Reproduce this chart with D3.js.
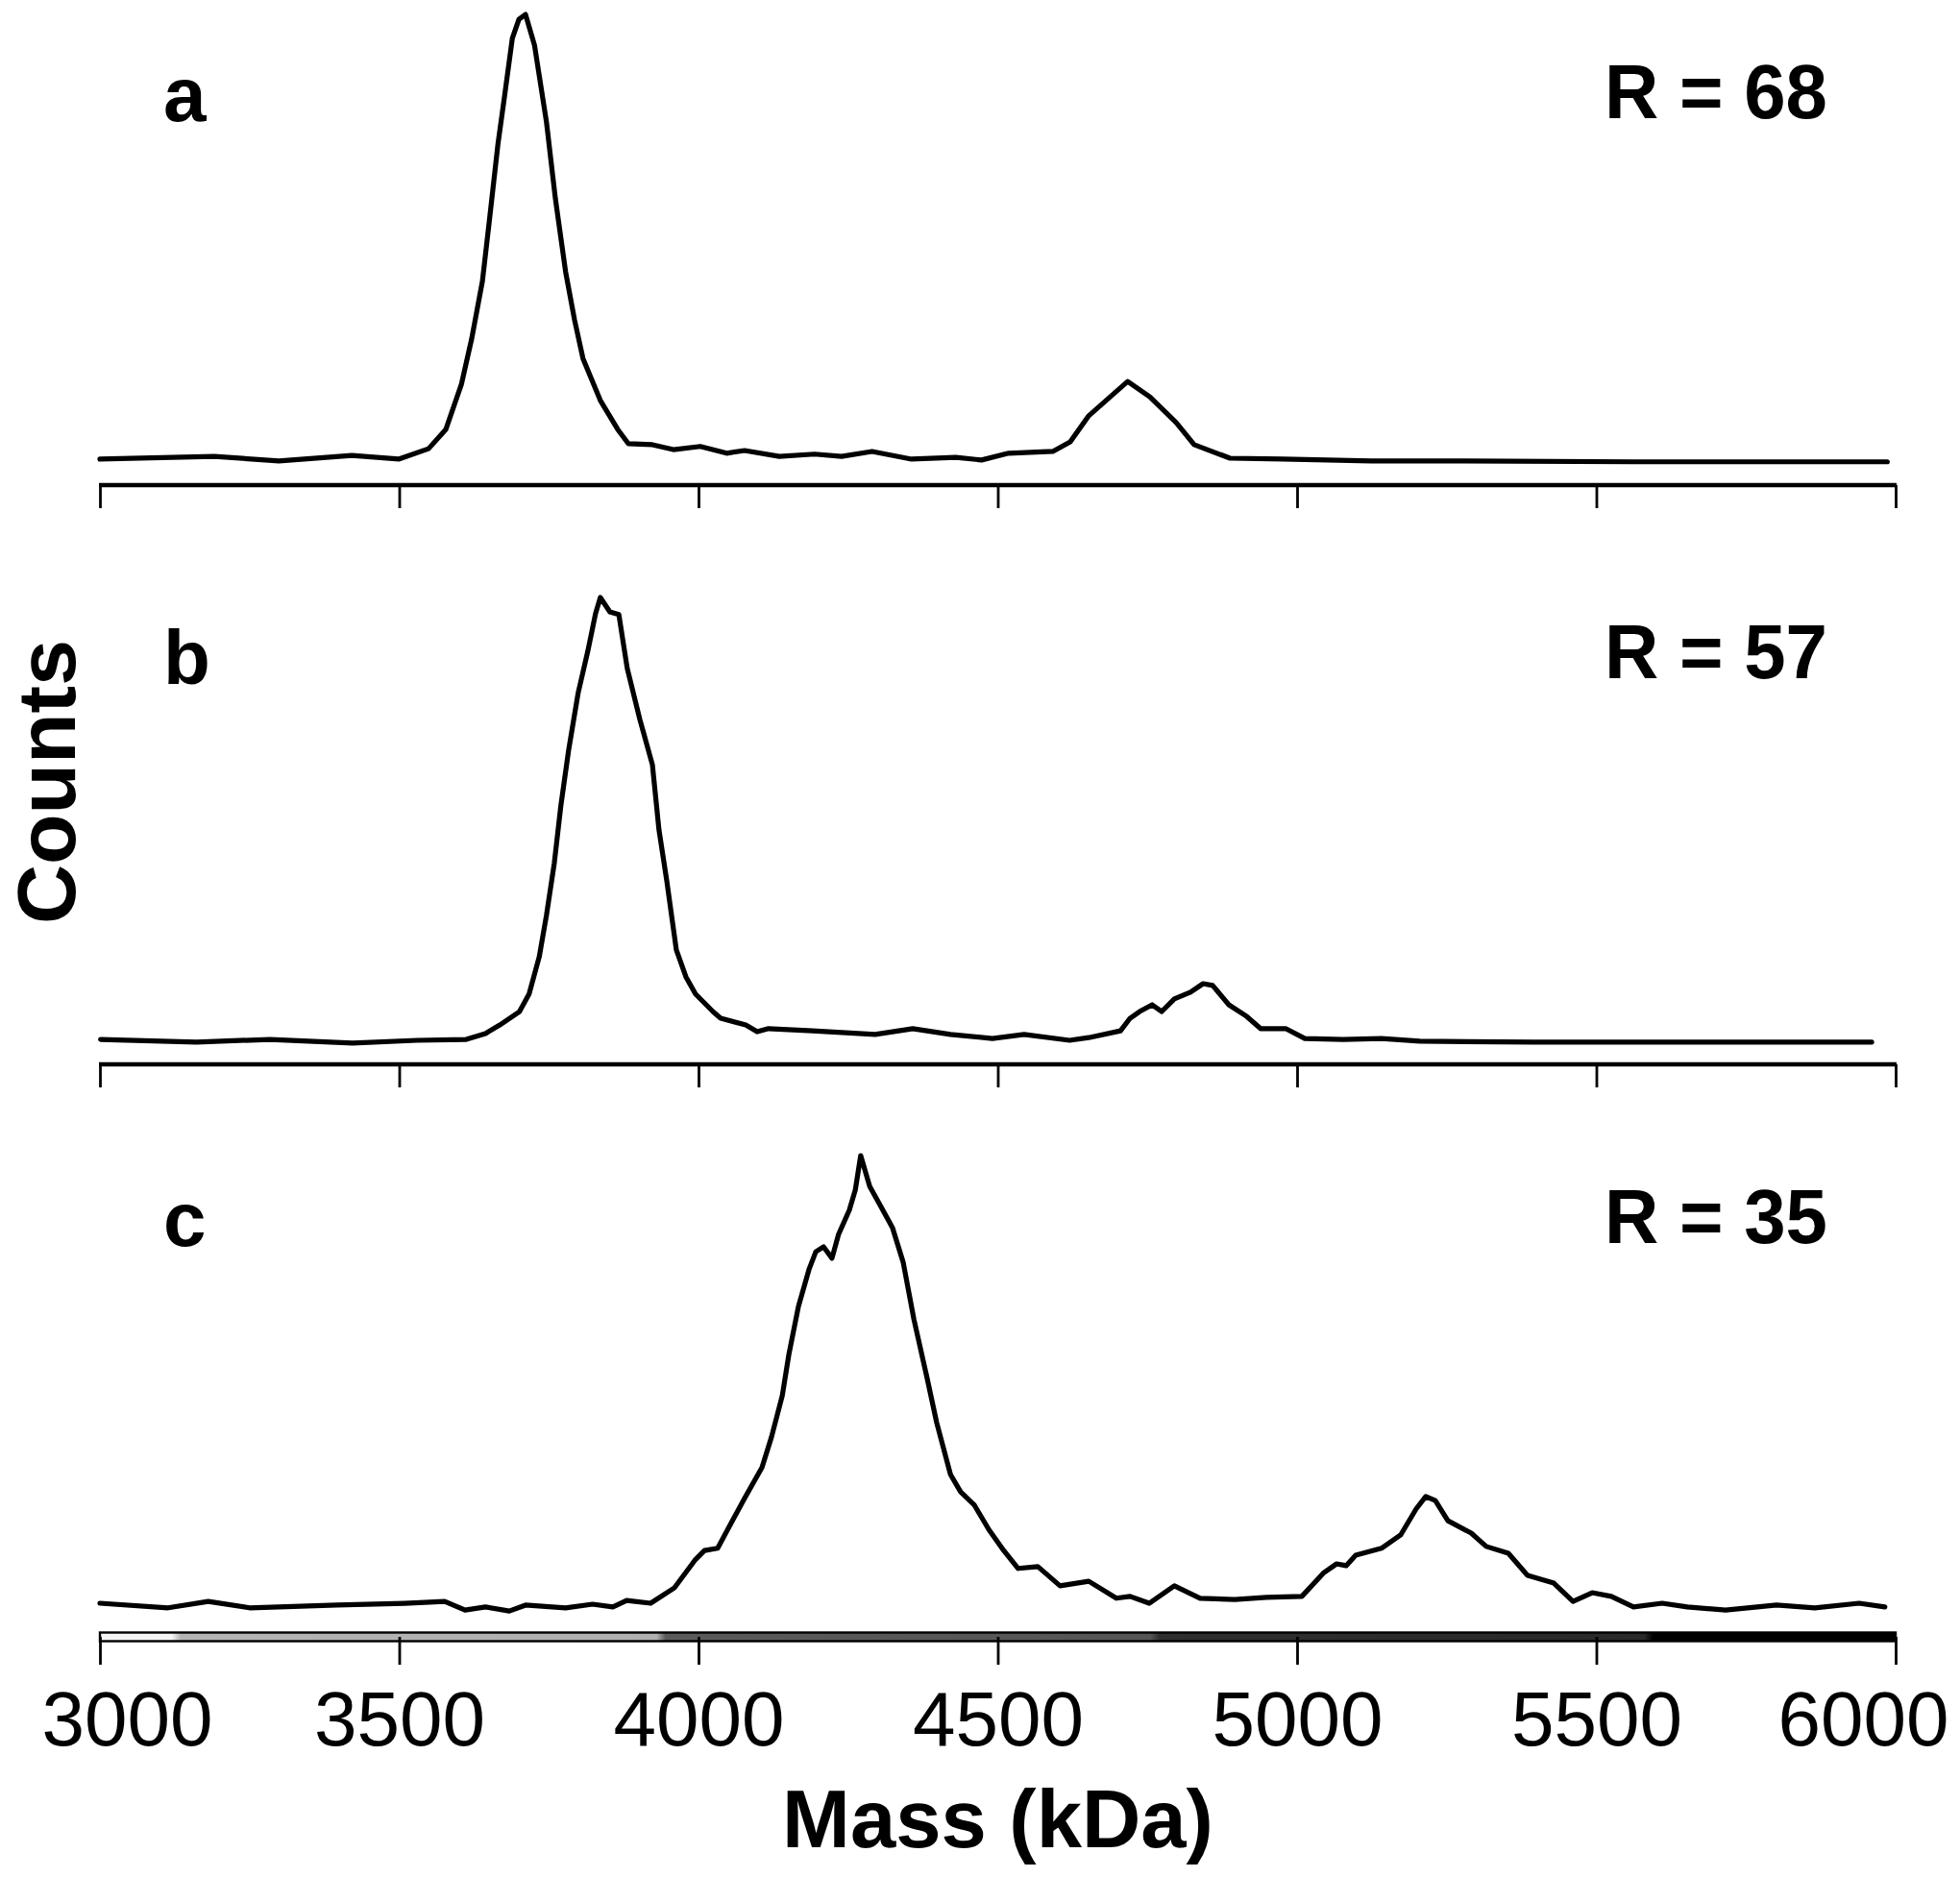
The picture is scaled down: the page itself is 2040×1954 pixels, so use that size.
<!DOCTYPE html>
<html>
<head>
<meta charset="utf-8">
<script src="https://cdn.jsdelivr.net/npm/d3@7"></script>
<style>
  html, body { margin: 0; padding: 0; background: #fff; }
  svg { display: block; }
  text { font-family: "Liberation Sans", Arial, Helvetica, sans-serif; fill: #000; }
</style>
</head>
<body>
<svg id="chart" width="2040" height="1954"></svg>
<script>
// ---------------- DATA ----------------
const tickValues = [3000, 3500, 4000, 4500, 5000, 5500, 6000];
const tickLabels = ["3000", "3500", "4000", "4500", "5000", "5500", "6000"];
const panelLabels = ["a", "b", "c"];
const rLabels = ["R = 68", "R = 57", "R = 35"];
const xTitle = "Mass (kDa)";
const yTitle = "Counts";

// panel a (mass in kDa, relative counts)
const mass_a = [3000,3191,3299,3421,3499,3549,3578,3604,3621,3639,3650,3665,3676,3689,3700,3711,3726,3746,3761,3778,3793,3807,3836,3865,3883,3923,3958,4003,4047,4077,4135,4194,4239,4290,4356,4430,4473,4518,4592,4621,4652,4681,4717,4754,4798,4828,4888,4976,5124,5270,5562,5986];
const counts_a = [1.5,2.1,1.1,2.3,1.5,3.8,8.1,18.1,28.1,40.9,53.6,71.3,81.9,94.7,98.9,100,93.2,76.2,59.1,43.0,32.3,23.8,14.5,8.1,4.9,4.7,3.6,4.3,2.8,3.4,2.1,2.6,2.1,3.2,1.5,1.9,1.3,2.8,3.2,5.3,11.1,14.5,18.7,15.3,9.6,4.7,1.7,1.5,1.1,1.1,0.9,0.9];

// panel b
const mass_b = [3001,3161,3284,3422,3530,3612,3644,3668,3701,3717,3734,3746,3759,3770,3783,3799,3815,3828,3836,3852,3867,3881,3902,3923,3934,3947,3963,3979,3995,4024,4037,4079,4098,4117,4191,4295,4358,4421,4491,4544,4620,4652,4705,4721,4737,4758,4774,4795,4822,4843,4859,4886,4916,4939,4981,5013,5077,5141,5205,5396,5960];
const counts_b = [1.7,1.1,1.7,0.9,1.5,1.7,3.0,4.9,7.9,11.8,20.1,29.3,40.8,53.6,66.0,78.8,88.0,96.4,100,96.8,96.2,84.2,72.9,62.8,48.3,37.0,21.6,15.6,11.8,7.9,6.4,4.9,3.4,4.1,3.6,2.8,4.1,2.8,1.9,2.8,1.5,2.1,3.6,6.4,7.9,9.4,7.9,10.7,12.2,14.1,13.7,9.4,6.8,4.1,4.1,1.9,1.7,1.9,1.3,1.1,1.1];

// panel c
const mass_c = [3000,3114,3181,3250,3396,3509,3576,3610,3644,3684,3711,3778,3823,3857,3880,3920,3960,3994,4010,4032,4055,4077,4106,4122,4140,4151,4167,4185,4196,4209,4223,4234,4252,4262,4271,4286,4302,4324,4342,4360,4382,4398,4421,4438,4461,4485,4510,4534,4567,4604,4652,4698,4721,4753,4795,4838,4896,4949,5008,5045,5066,5082,5098,5141,5173,5199,5215,5231,5252,5291,5316,5353,5385,5429,5461,5493,5525,5562,5610,5652,5716,5801,5865,5939,5982];
const counts_c = [2.3,1.3,2.7,1.3,1.9,2.3,2.7,0.8,1.5,0.6,1.9,1.3,2.1,1.5,2.9,2.3,5.7,11.7,13.8,14.3,19.9,25.2,31.9,38.6,47.6,56.6,67.1,75.3,79.0,80.1,77.6,82.8,88.1,92.5,100,93.3,89.5,84.3,76.7,64.2,51.4,41.7,30.4,26.6,23.7,18.4,13.8,9.9,10.3,6.1,7.1,3.4,3.8,2.3,6.1,3.4,3.1,3.6,3.8,9.0,10.9,10.5,12.8,14.3,17.2,22.9,25.6,24.7,20.3,17.6,14.7,13.2,8.4,6.7,2.7,4.6,3.8,1.5,2.3,1.5,0.8,1.9,1.3,2.3,1.5];

const series = [
  { mass: mass_a, counts: counts_a },
  { mass: mass_b, counts: counts_b },
  { mass: mass_c, counts: counts_c }
];

// ---------------- LAYOUT ----------------
const FONT = '"Liberation Sans", Arial, Helvetica, sans-serif';
const layout = [
  { axisY: 505,  zeroY: 485,  topY: 15,   labelY: 126,  rY: 123,  tick: 24 },
  { axisY: 1108, zeroY: 1090, topY: 622,  labelY: 712,  rY: 706,  tick: 24 },
  { axisY: 1704, zeroY: 1680, topY: 1203, labelY: 1297, rY: 1294, tick: 29 }
];

const svg = d3.select("#chart");
svg.append("rect").attr("width", 2040).attr("height", 1954).attr("fill", "#fff");

const x = d3.scaleLinear().domain([3000, 6000]).range([104, 1973]);

// gradient for bottom axis bar
const defs = svg.append("defs");
const grad = defs.append("linearGradient").attr("id", "barGrad")
  .attr("x1", "0%").attr("x2", "100%").attr("y1", "0%").attr("y2", "0%");
[[0, "#f4f4f4"], [0.04, "#f4f4f4"], [0.045, "#b4b4b4"], [0.31, "#b0b0b0"], [0.315, "#5a5a5a"], [0.585, "#555"], [0.59, "#2e2e2e"], [0.86, "#2a2a2a"], [0.865, "#000"], [1, "#000"]]
  .forEach(([o, c]) => grad.append("stop").attr("offset", o).attr("stop-color", c));

series.forEach((s, i) => {
  const L = layout[i];
  const y = d3.scaleLinear().domain([0, 100]).range([L.zeroY, L.topY]);
  const g = svg.append("g");

  // axis with ticks
  const axis = d3.axisBottom(x)
    .tickValues(tickValues)
    .tickSize(L.tick)
    .tickSizeOuter(0)
    .tickFormat((d, k) => i === 2 ? tickLabels[k] : "");
  const ag = g.append("g").attr("transform", `translate(0,${L.axisY})`).call(axis);
  ag.select(".domain").remove();
  ag.selectAll(".tick line").attr("stroke", "#000").attr("stroke-width", 2.8);

  if (i === 2) {
    ag.insert("rect", ":first-child")
      .attr("x", x(3000)).attr("y", -4.5)
      .attr("width", x(6000) - x(3000)).attr("height", 9)
      .attr("fill", "url(#barGrad)").attr("stroke", "#000").attr("stroke-width", 2.4);
    const texts = ag.selectAll(".tick text")
      .attr("y", 1817 - L.axisY).attr("dy", null)
      .attr("font-family", FONT).attr("font-size", 80).attr("fill", "#000");
    // keep end labels inside the figure
    texts.filter(d => d === tickValues[0]).attr("text-anchor", "start").attr("x", 43 - x(3000));
    texts.filter(d => d === tickValues[tickValues.length - 1]).attr("text-anchor", "end").attr("x", 2028 - x(6000));
  } else {
    ag.insert("line", ":first-child")
      .attr("x1", x(3000) - 1).attr("x2", x(6000) + 1)
      .attr("y1", 0).attr("y2", 0)
      .attr("stroke", "#000").attr("stroke-width", 4.5);
  }

  // spectrum line
  const pts = s.mass.map((m, k) => [m, s.counts[k]]);
  const line = d3.line().x(d => x(d[0])).y(d => y(d[1])).curve(d3.curveLinear);
  g.append("path").datum(pts)
    .attr("d", line)
    .attr("fill", "none")
    .attr("stroke", "#000")
    .attr("stroke-width", 5.2)
    .attr("stroke-linejoin", "round")
    .attr("stroke-linecap", "round");

  // panel letter
  g.append("text").attr("x", 170).attr("y", L.labelY)
    .attr("font-family", FONT).attr("font-weight", "bold").attr("font-size", 80)
    .text(panelLabels[i]);

  // R label
  g.append("text").attr("x", 1670).attr("y", L.rY)
    .attr("font-family", FONT).attr("font-weight", "bold").attr("font-size", 80)
    .attr("textLength", 232).attr("lengthAdjust", "spacingAndGlyphs")
    .text(rLabels[i]);
});

// axis titles
svg.append("text")
  .attr("x", (x(3000) + x(6000)) / 2).attr("y", 1923)
  .attr("text-anchor", "middle")
  .attr("font-family", FONT).attr("font-weight", "bold").attr("font-size", 85)
  .text(xTitle);

svg.append("text")
  .attr("transform", "translate(78,814) rotate(-90)")
  .attr("text-anchor", "middle")
  .attr("font-family", FONT).attr("font-weight", "bold").attr("font-size", 86)
  .text(yTitle);
</script>
</body>
</html>
